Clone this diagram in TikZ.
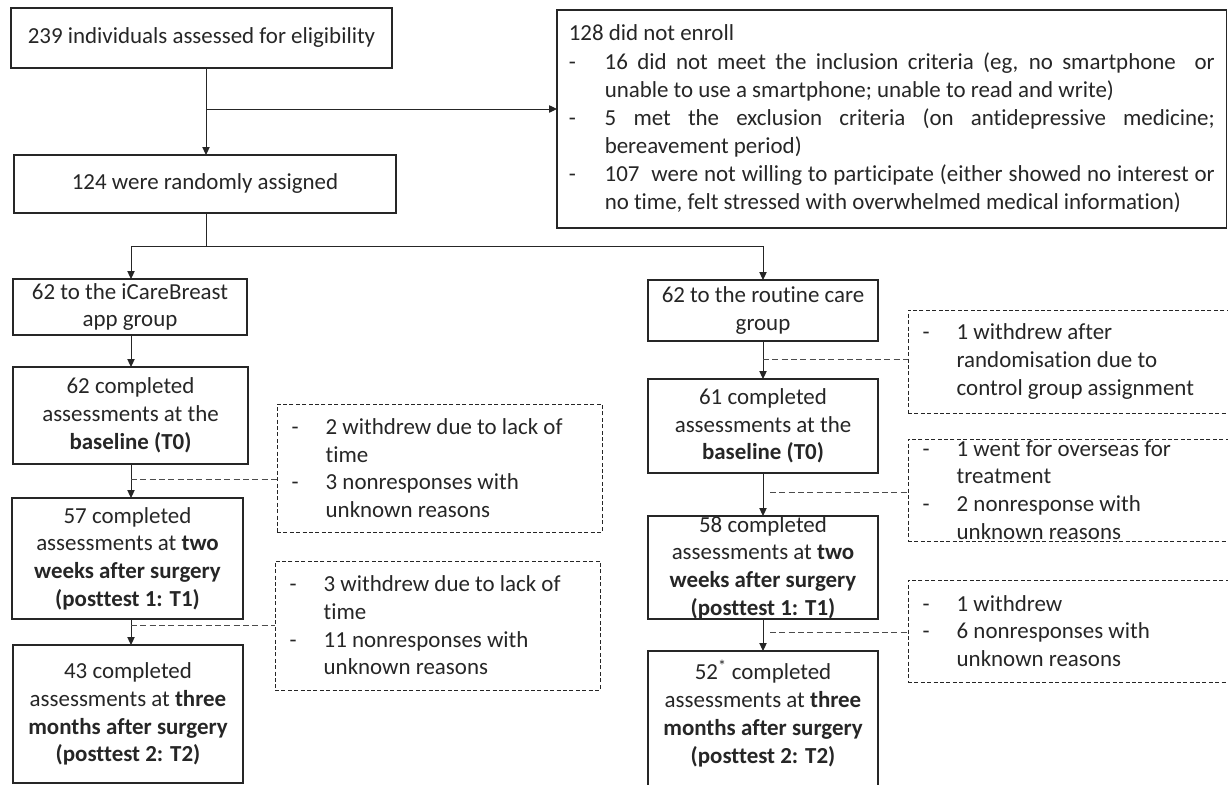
\documentclass[tikz,border=0pt]{standalone}
\usepackage{fontspec}
\setmainfont{Carlito}[Ligatures=NoCommon]
\usetikzlibrary{arrows.meta,calc}
\newcommand\mydash{\makebox[25.5pt][l]{-}}
\newcommand\myind{\hspace*{25.5pt}}
\newcommand\natsp{\spaceskip=0pt\xspaceskip=0pt\relax}
\begin{document}
\begin{tikzpicture}[x=0.75pt,y=-0.75pt,
  every node/.style={font=\fontsize{17.2}{20.8}\selectfont, text=black!85},
  bx/.style={draw=black!85, line width=0.9pt, inner sep=0pt, outer sep=0pt, align=center},
  dbx/.style={draw=black!85, line width=0.75pt, dash pattern=on 3pt off 1.8pt, inner xsep=11pt, inner ysep=0pt, outer sep=0pt, align=left},
  arr/.style={draw=black!85, line width=0.75pt, -{Triangle[length=6pt,width=5.5pt]}},
  con/.style={draw=black!85, line width=0.75pt},
  dcon/.style={draw=black!70, line width=0.75pt, dash pattern=on 4.5pt off 2.5pt}]

\fill[white] (0,0) rectangle (1228,785);
\useasboundingbox (0,0) rectangle (1228,785);

% top boxes
\node[bx, minimum width=381*0.75pt, minimum height=60*0.75pt] (A) at (201.5,38) {239 individuals assessed for eligibility};
\node[bx, minimum width=382*0.75pt, minimum height=58*0.75pt] (B) at (205,184) {124 were randomly assigned};
\node[bx, align=left, text width=484.5pt, minimum width=502pt, minimum height=218*0.75pt, font=\fontsize{17.2}{21.1}\selectfont] (C) at (891.75,119) {\natsp 128 did not enroll\\
\makebox[27pt][l]{-}\makebox[457.5pt][s]{16 did not meet the inclusion criteria (eg, no smartphone \ or}\\
\hspace*{27pt}unable to use a smartphone; unable to read and write)\\
\makebox[27pt][l]{-}\makebox[457.5pt][s]{5 met the exclusion criteria (on antidepressive medicine;}\\
\hspace*{27pt}bereavement period)\\
\makebox[27pt][l]{-}\makebox[457.5pt][s]{107 \ were not willing to participate (either showed no interest or}\\
\hspace*{27pt}no time, felt stressed with overwhelmed medical information)};

% left column
\node[bx, minimum width=234*0.75pt, minimum height=56*0.75pt] (L1) at (130,307) {62 to the iCareBreast\\app group};
\node[bx, minimum width=235*0.75pt, minimum height=97*0.75pt] (L2) at (130.5,415.5) {62 completed\\assessments at the\\\textbf{baseline (T0)}};
\node[bx, minimum width=231*0.75pt, minimum height=121*0.75pt] (L3) at (127.5,558.5) {57 completed\\assessments at \textbf{two}\\\textbf{weeks after surgery}\\\textbf{(posttest 1: T1)}};
\node[bx, minimum width=230*0.75pt, minimum height=138*0.75pt] (L4) at (128,714) {43 completed\\assessments at \textbf{three}\\\textbf{months after surgery}\\\textbf{(posttest 2: T2)}};

% right column
\node[bx, minimum width=230*0.75pt, minimum height=61*0.75pt] (R1) at (763,310.5) {62 to the routine care\\group};
\node[bx, minimum width=230*0.75pt, minimum height=94*0.75pt] (R2) at (763,426) {61 completed\\assessments at the\\\textbf{baseline (T0)}};
\node[bx, minimum width=230*0.75pt, minimum height=103*0.75pt] (R3) at (763,567.5) {58 completed\\assessments at \textbf{two}\\\textbf{weeks after surgery}\\\textbf{(posttest 1: T1)}};
\node[bx, minimum width=230*0.75pt, minimum height=189*0.75pt] (R4) at (763,745.5) {};
\node[align=center, inner sep=0pt] (R4t) at (763,713.5) {52\textsuperscript{*} completed\\assessments at \textbf{three}\\\textbf{months after surgery}\\\textbf{(posttest 2: T2)}};

% dashed boxes
\node[dbx, minimum width=325*0.75pt, minimum height=128*0.75pt, text width=221.75pt] (D1) at (439.5,468) {\natsp\mydash 2 withdrew due to lack of\\\myind time\\\mydash 3 nonresponses with\\\myind unknown reasons};
\node[dbx, minimum width=325*0.75pt, minimum height=129*0.75pt, text width=221.75pt] (D2) at (437.5,625.5) {\natsp\mydash 3 withdrew due to lack of\\\myind time\\\mydash 11 nonresponses with\\\myind unknown reasons};
\node[dbx, minimum width=337*0.75pt, minimum height=103*0.75pt, text width=230.75pt] (D3) at (1076.5,361.5) {\natsp\mydash 1 withdrew after\\\myind randomisation due to\\\myind control group assignment};
\node[dbx, minimum width=337*0.75pt, minimum height=102*0.75pt, text width=230.75pt] (D4) at (1076.5,490) {\natsp\mydash 1 went for overseas for\\\myind treatment\\\mydash 2 nonresponse with\\\myind unknown reasons};
\node[dbx, minimum width=337*0.75pt, minimum height=102*0.75pt, text width=230.75pt] (D5) at (1076.5,631) {\natsp\mydash 1 withdrew\\\mydash 6 nonresponses with\\\myind unknown reasons};

% solid connectors
\coordinate (j1) at (206,109);
\coordinate (j2) at (206,246);
\coordinate (lc) at (131,0);
\coordinate (rc) at (763,0);
\draw[arr] (A.south -| j1) -- (B.north -| j1);
\draw[arr] (j1) -- (C.west |- j1);
\draw[con] (B.south -| j2) -- (j2);
\draw[arr] (j2) -| (L1.north -| lc);
\draw[arr] (j2) -| (R1.north -| rc);
\draw[arr] (L1.south -| lc) -- (L2.north -| lc);
\draw[arr] (L2.south -| lc) -- (L3.north -| lc);
\draw[arr] (L3.south -| lc) -- (L4.north -| lc);
\draw[arr] (R1.south -| rc) -- (R2.north -| rc);
\draw[arr] (R2.south -| rc) -- (R3.north -| rc);
\draw[arr] (R3.south -| rc) -- (R4.north -| rc);

% dashed connectors
\coordinate (e1) at (131,479);
\coordinate (e2) at (131,625);
\coordinate (e3) at (763,359);
\coordinate (e4) at (770,492);
\coordinate (e5) at (770,632);
\draw[dcon] (e1) -- (D1.west |- e1);
\draw[dcon] (e2) -- (D2.west |- e2);
\draw[dcon] (e3) -- (D3.west |- e3);
\draw[dcon] (e4) -- (D4.west |- e4);
\draw[dcon] (e5) -- (D5.west |- e5);
\end{tikzpicture}
\end{document}
